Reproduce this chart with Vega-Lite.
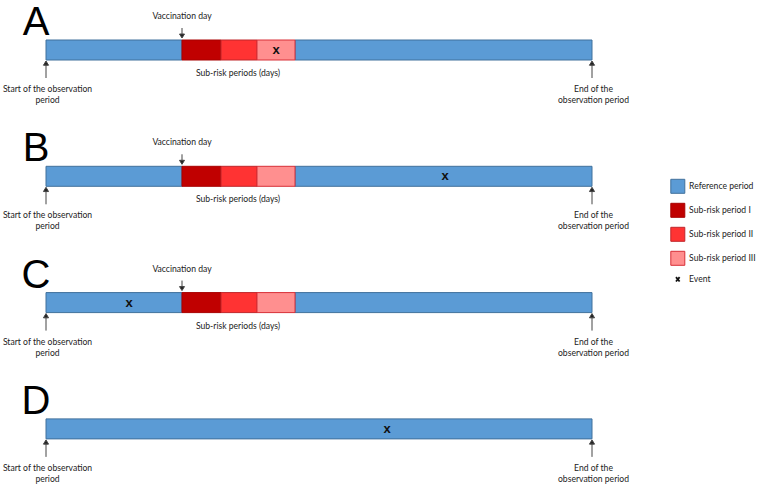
{
  "$schema": "https://vega.github.io/schema/vega-lite/v6.json",
  "width": 760,
  "height": 484,
  "autosize": {"type": "none"},
  "padding": 0,
  "background": "white",
  "config": {"view": {"stroke": null}, "text": {"font": "Lato", "color": "#222222"}},
  "datasets": {
    "segments": [
      {"panel": "A", "period": "Reference period", "from": 0, "to": 136},
      {"panel": "A", "period": "Reference period", "from": 249, "to": 546},
      {"panel": "A", "period": "Sub-risk period I", "from": 136, "to": 175},
      {"panel": "A", "period": "Sub-risk period II", "from": 175, "to": 211},
      {"panel": "A", "period": "Sub-risk period III", "from": 211, "to": 249},
      {"panel": "B", "period": "Reference period", "from": 0, "to": 136},
      {"panel": "B", "period": "Reference period", "from": 249, "to": 546},
      {"panel": "B", "period": "Sub-risk period I", "from": 136, "to": 175},
      {"panel": "B", "period": "Sub-risk period II", "from": 175, "to": 211},
      {"panel": "B", "period": "Sub-risk period III", "from": 211, "to": 249},
      {"panel": "C", "period": "Reference period", "from": 0, "to": 136},
      {"panel": "C", "period": "Reference period", "from": 249, "to": 546},
      {"panel": "C", "period": "Sub-risk period I", "from": 136, "to": 175},
      {"panel": "C", "period": "Sub-risk period II", "from": 175, "to": 211},
      {"panel": "C", "period": "Sub-risk period III", "from": 211, "to": 249},
      {"panel": "D", "period": "Reference period", "from": 0, "to": 546}
    ],
    "panels": [{"panel": "A"}, {"panel": "B"}, {"panel": "C"}, {"panel": "D"}],
    "vaccination": [
      {"panel": "A", "day": 136},
      {"panel": "B", "day": 136},
      {"panel": "C", "day": 136}
    ],
    "subrisk": [
      {"panel": "A", "day": 192},
      {"panel": "B", "day": 192},
      {"panel": "C", "day": 192}
    ],
    "observation": [
      {"panel": "A", "day": 0, "label": "Start of the observation\nperiod"},
      {"panel": "A", "day": 546, "label": "End of the\nobservation period"},
      {"panel": "B", "day": 0, "label": "Start of the observation\nperiod"},
      {"panel": "B", "day": 546, "label": "End of the\nobservation period"},
      {"panel": "C", "day": 0, "label": "Start of the observation\nperiod"},
      {"panel": "C", "day": 546, "label": "End of the\nobservation period"},
      {"panel": "D", "day": 0, "label": "Start of the observation\nperiod"},
      {"panel": "D", "day": 546, "label": "End of the\nobservation period"}
    ],
    "events": [
      {"panel": "A", "day": 230},
      {"panel": "B", "day": 399},
      {"panel": "C", "day": 83},
      {"panel": "D", "day": 341}
    ]
  },
  "layer": [
    {
      "data": {"name": "segments"},
      "mark": {"type": "rect", "strokeWidth": 1},
      "encoding": {
        "x": {"field": "from", "type": "quantitative", "scale": {"domain": [-46, 714], "nice": false, "zero": false}, "axis": null},
        "x2": {"field": "to"},
        "y": {"field": "panel", "type": "nominal", "scale": {"domain": ["A", "B", "C", "D"], "paddingInner": 0.8416, "paddingOuter": 0.337, "align": 0.47}, "axis": null},
        "color": {
          "field": "period", "type": "nominal",
          "scale": {"domain": ["Reference period", "Sub-risk period I", "Sub-risk period II", "Sub-risk period III", "Event"], "range": ["#5B9BD5", "#C00000", "#FF3333", "#FF8F8F", "#111111"]},
          "legend": {
            "title": null, "orient": "none", "legendX": 673.5, "legendY": 182,
            "symbolType": "square", "symbolSize": 196, "symbolStrokeWidth": 1, "symbolOpacity": 1,
            "labelFont": "Lato", "labelFontSize": 8.6, "labelColor": "#222222", "labelOffset": 7, "rowPadding": 5,
            "encode": {"symbols": {"update": {
              "shape": {"signal": "datum.value === 'Event' ? 'M-0.26,-0.32L0.26,0.32M0.26,-0.32L-0.26,0.32' : 'square'"},
              "strokeWidth": {"signal": "datum.value === 'Event' ? 1.8 : 1"}
            }}}
          }
        },
        "stroke": {
          "field": "period", "type": "nominal",
          "scale": {"domain": ["Reference period", "Sub-risk period I", "Sub-risk period II", "Sub-risk period III", "Event"], "range": ["#41719C", "#A80000", "#C0262B", "#D83038", "#111111"]},
          "legend": {
            "title": null, "orient": "none", "legendX": 673.5, "legendY": 182,
            "symbolType": "square", "symbolSize": 196, "symbolStrokeWidth": 1, "symbolOpacity": 1,
            "labelFont": "Lato", "labelFontSize": 8.6, "labelColor": "#222222", "labelOffset": 7, "rowPadding": 5,
            "encode": {"symbols": {"update": {
              "shape": {"signal": "datum.value === 'Event' ? 'M-0.26,-0.32L0.26,0.32M0.26,-0.32L-0.26,0.32' : 'square'"},
              "strokeWidth": {"signal": "datum.value === 'Event' ? 1.8 : 1"}
            }}}
          }
        }
      }
    },
    {
      "data": {"name": "panels"},
      "mark": {"type": "text", "font": "Liberation Sans", "fontSize": 40, "align": "center", "baseline": "alphabetic", "dy": -5, "color": "#000000"},
      "encoding": {
        "x": {"datum": -10},
        "y": {"field": "panel", "type": "nominal", "bandPosition": 0},
        "text": {"field": "panel"}
      }
    },
    {
      "data": {"name": "vaccination"},
      "mark": {"type": "text", "fontSize": 8.6, "align": "center", "baseline": "middle", "dy": -24},
      "encoding": {
        "x": {"field": "day", "type": "quantitative"},
        "y": {"field": "panel", "type": "nominal", "bandPosition": 0},
        "text": {"value": "Vaccination day"}
      }
    },
    {
      "data": {"name": "vaccination"},
      "mark": {"type": "point", "shape": "M0,-1L0,0.2M-0.5,0.2L0.5,0.2L0,1Z", "size": 100, "filled": true, "fill": "#222222", "stroke": "#444444", "strokeWidth": 1, "opacity": 1, "yOffset": -7},
      "encoding": {
        "x": {"field": "day", "type": "quantitative"},
        "y": {"field": "panel", "type": "nominal", "bandPosition": 0}
      }
    },
    {
      "data": {"name": "subrisk"},
      "mark": {"type": "text", "fontSize": 8.6, "align": "center", "baseline": "middle", "dy": 33},
      "encoding": {
        "x": {"field": "day", "type": "quantitative"},
        "y": {"field": "panel", "type": "nominal", "bandPosition": 0},
        "text": {"value": "Sub-risk periods (days)"}
      }
    },
    {
      "data": {"name": "observation"},
      "mark": {"type": "point", "shape": "M0,1L0,-0.6M-0.3,-0.5L0.3,-0.5L0,-1Z", "size": 289, "filled": true, "fill": "#222222", "stroke": "#444444", "strokeWidth": 1, "opacity": 1, "yOffset": 29.5},
      "encoding": {
        "x": {"field": "day", "type": "quantitative"},
        "y": {"field": "panel", "type": "nominal", "bandPosition": 0}
      }
    },
    {
      "data": {"name": "observation"},
      "mark": {"type": "text", "fontSize": 8.6, "align": "center", "baseline": "middle", "lineBreak": "\n", "lineHeight": 11, "dy": 49, "dx": 1.5},
      "encoding": {
        "x": {"field": "day", "type": "quantitative"},
        "y": {"field": "panel", "type": "nominal", "bandPosition": 0},
        "text": {"field": "label"}
      }
    },
    {
      "data": {"name": "events"},
      "mark": {"type": "text", "font": "Liberation Sans", "fontSize": 13, "fontWeight": "bold", "align": "center", "baseline": "middle", "color": "#111111"},
      "encoding": {
        "x": {"field": "day", "type": "quantitative"},
        "y": {"field": "panel", "type": "nominal"},
        "text": {"value": "x"}
      }
    }
  ]
}
